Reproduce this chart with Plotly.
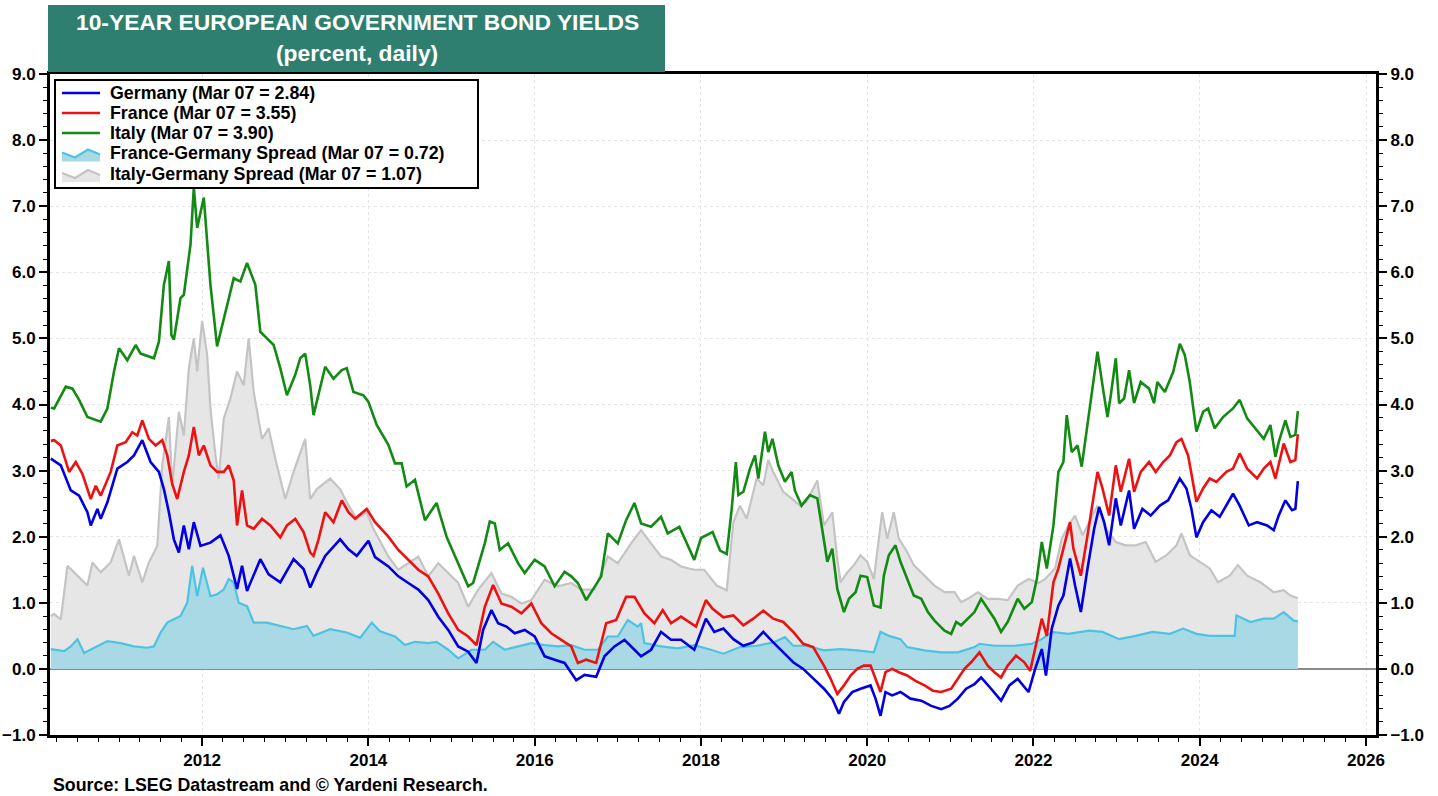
import plotly.graph_objects as go

# ---------------- data (decimal years, percent) ----------------
germany_t = [2010.18, 2010.22, 2010.3, 2010.42, 2010.52, 2010.62, 2010.66, 2010.74, 2010.78, 2010.86, 2010.98,
             2011.1, 2011.18, 2011.28, 2011.38, 2011.48, 2011.54, 2011.6, 2011.66, 2011.72, 2011.78, 2011.84, 2011.9, 2011.98,
             2012.1, 2012.22, 2012.32, 2012.42, 2012.48, 2012.54, 2012.7, 2012.8, 2012.94,
             2013.1, 2013.22, 2013.3, 2013.38, 2013.48, 2013.66, 2013.76, 2013.86, 2014.0, 2014.08,
             2014.24, 2014.36, 2014.48, 2014.6, 2014.72, 2014.84, 2014.96, 2015.08, 2015.2, 2015.3, 2015.38, 2015.48,
             2015.56, 2015.66, 2015.76, 2015.88, 2016.0, 2016.12, 2016.24, 2016.36, 2016.5, 2016.6, 2016.74, 2016.84,
             2016.96, 2017.08, 2017.2, 2017.28, 2017.4, 2017.52, 2017.64, 2017.76, 2017.92,
             2018.06, 2018.16, 2018.27, 2018.39, 2018.51, 2018.63, 2018.75, 2018.87, 2018.99, 2019.11, 2019.23, 2019.35,
             2019.48, 2019.58, 2019.66, 2019.72, 2019.82, 2019.92, 2020.04, 2020.1, 2020.16, 2020.22, 2020.3, 2020.4,
             2020.52, 2020.65, 2020.77, 2020.89, 2020.99, 2021.09, 2021.19, 2021.29, 2021.37, 2021.49, 2021.61, 2021.71,
             2021.81, 2021.94,
             2022.02, 2022.1, 2022.15, 2022.22, 2022.3, 2022.36, 2022.44, 2022.5, 2022.57, 2022.65, 2022.73, 2022.79,
             2022.85, 2022.91, 2022.99, 2023.05, 2023.15, 2023.21, 2023.31, 2023.41, 2023.52, 2023.62, 2023.7, 2023.76,
             2023.84, 2023.9, 2023.96, 2024.04, 2024.14, 2024.24, 2024.4, 2024.48, 2024.59, 2024.69, 2024.81, 2024.89,
             2024.95, 2025.03, 2025.11, 2025.15, 2025.18]
germany_y = [3.18, 3.15, 3.08, 2.7, 2.62, 2.37, 2.17, 2.42, 2.27, 2.52, 3.03,
             3.13, 3.23, 3.46, 3.13, 2.98, 2.72, 2.37, 1.96, 1.76, 2.17, 1.81, 2.22, 1.86,
             1.91, 2.02, 1.71, 1.21, 1.56, 1.18, 1.66, 1.43, 1.31,
             1.66, 1.51, 1.23, 1.46, 1.71, 1.96, 1.81, 1.71, 1.94, 1.69,
             1.55, 1.4, 1.3, 1.2, 1.04, 0.79, 0.59, 0.34, 0.26, 0.09, 0.59, 0.89,
             0.69, 0.64, 0.54, 0.59, 0.49, 0.19, 0.14, 0.09, -0.17, -0.09, -0.12, 0.19,
             0.34, 0.44, 0.29, 0.19, 0.29, 0.56, 0.44, 0.44, 0.29,
             0.76, 0.56, 0.61, 0.45, 0.35, 0.4, 0.56, 0.4, 0.25, 0.1, 0.0, -0.15,
             -0.3, -0.45, -0.68, -0.5, -0.35, -0.3, -0.25, -0.45, -0.71, -0.35, -0.4, -0.35,
             -0.45, -0.48, -0.56, -0.61, -0.56, -0.45, -0.3, -0.23, -0.13, -0.3, -0.48, -0.25,
             -0.15, -0.35,
             0.0, 0.3, -0.1, 0.61, 0.96, 1.11, 1.67, 1.26, 0.86, 1.52, 2.12, 2.45,
             2.22, 1.87, 2.58, 2.17, 2.7, 2.12, 2.42, 2.32, 2.47, 2.55, 2.73, 2.88,
             2.73, 2.42, 1.99, 2.22, 2.4, 2.3, 2.65, 2.47, 2.17, 2.22, 2.17, 2.1,
             2.32, 2.55, 2.4, 2.42, 2.84]

france_t = [2010.18, 2010.22, 2010.3, 2010.4, 2010.48, 2010.56, 2010.66, 2010.72, 2010.78, 2010.9, 2010.98,
            2011.08, 2011.16, 2011.22, 2011.28, 2011.36, 2011.44, 2011.52, 2011.58, 2011.64, 2011.7, 2011.78, 2011.84,
            2011.9, 2011.96, 2012.02, 2012.1, 2012.18, 2012.26, 2012.32, 2012.38, 2012.42, 2012.48, 2012.54, 2012.62,
            2012.72, 2012.82, 2012.94, 2013.02, 2013.12, 2013.22, 2013.3, 2013.34, 2013.4, 2013.48, 2013.58, 2013.68,
            2013.76, 2013.84, 2013.98, 2014.08,
            2014.24, 2014.36, 2014.48, 2014.6, 2014.72, 2014.84, 2014.96, 2015.08, 2015.2, 2015.3, 2015.4, 2015.5,
            2015.6, 2015.72, 2015.84, 2015.96, 2016.08, 2016.2, 2016.32, 2016.44, 2016.52, 2016.62, 2016.74, 2016.86,
            2016.98, 2017.1, 2017.2, 2017.32, 2017.44, 2017.54, 2017.64, 2017.76, 2017.94,
            2018.06, 2018.14, 2018.27, 2018.39, 2018.51, 2018.63, 2018.75, 2018.87, 2018.99, 2019.11, 2019.23, 2019.35,
            2019.48, 2019.56, 2019.64, 2019.72, 2019.8, 2019.88, 2019.96, 2020.04, 2020.12, 2020.16, 2020.22, 2020.3,
            2020.38, 2020.48, 2020.58, 2020.69, 2020.79, 2020.89, 2021.01, 2021.09, 2021.17, 2021.25, 2021.35, 2021.45,
            2021.53, 2021.61, 2021.69, 2021.79, 2021.89, 2021.96,
            2022.02, 2022.1, 2022.16, 2022.24, 2022.3, 2022.38, 2022.44, 2022.48, 2022.57, 2022.65, 2022.71, 2022.77,
            2022.83, 2022.91, 2022.99, 2023.05, 2023.15, 2023.21, 2023.29, 2023.39, 2023.47, 2023.56, 2023.64, 2023.72,
            2023.78, 2023.86, 2023.96, 2024.04, 2024.12, 2024.2, 2024.32, 2024.4, 2024.48, 2024.57, 2024.69, 2024.77,
            2024.85, 2024.91, 2025.01, 2025.09, 2025.15, 2025.18]
france_y = [3.45, 3.46, 3.38, 2.98, 3.13, 2.95, 2.57, 2.77, 2.62, 2.98, 3.38,
            3.43, 3.58, 3.53, 3.76, 3.48, 3.38, 3.46, 3.23, 2.8, 2.57, 2.98, 3.23,
            3.66, 3.23, 3.38, 3.08, 2.98, 2.98, 3.08, 2.85, 2.17, 2.7, 2.17, 2.12,
            2.27, 2.17, 1.99, 2.17, 2.27, 2.07, 1.76, 1.71, 1.96, 2.37, 2.22, 2.55,
            2.37, 2.27, 2.42, 2.22,
            2.0, 1.8, 1.65, 1.5, 1.4, 1.14, 0.84, 0.59, 0.49, 0.36, 0.94, 1.27,
            0.99, 0.94, 0.84, 0.99, 0.69, 0.54, 0.44, 0.34, 0.09, 0.14, 0.09, 0.69,
            0.74, 1.09, 1.09, 0.84, 0.69, 0.89, 0.69, 0.79, 0.64,
            1.04, 0.91, 0.78, 0.81, 0.66, 0.76, 0.88, 0.76, 0.71, 0.56, 0.38, 0.33,
            0.05, -0.15, -0.38, -0.25, -0.1, 0.0, 0.05, 0.05, -0.2, -0.35, -0.05, 0.0,
            -0.05, -0.1, -0.18, -0.25, -0.33, -0.35, -0.3, -0.15, 0.0, 0.1, 0.25, 0.05,
            -0.05, -0.13, 0.05, 0.2, 0.1, -0.03,
            0.3, 0.76, 0.5, 1.31, 1.52, 1.92, 2.22, 1.82, 1.41, 2.02, 2.53, 2.98,
            2.73, 2.32, 3.08, 2.68, 3.18, 2.68, 2.98, 3.13, 2.98, 3.13, 3.23, 3.43,
            3.48, 3.23, 2.53, 2.73, 2.88, 2.83, 2.98, 3.03, 3.26, 3.03, 2.88, 3.03,
            3.13, 2.88, 3.41, 3.13, 3.16, 3.55]

italy_t = [2010.18, 2010.22, 2010.36, 2010.44, 2010.52, 2010.62, 2010.78, 2010.86, 2010.94, 2011.0, 2011.1,
           2011.2, 2011.26, 2011.42, 2011.48, 2011.54, 2011.6, 2011.63, 2011.66, 2011.74, 2011.78, 2011.86, 2011.9,
           2011.94, 2012.02, 2012.1, 2012.18, 2012.26, 2012.32, 2012.38, 2012.46, 2012.54, 2012.64, 2012.7, 2012.78,
           2012.86, 2012.94, 2013.02, 2013.12, 2013.18, 2013.24, 2013.3, 2013.34, 2013.4, 2013.48, 2013.58, 2013.68,
           2013.74, 2013.82, 2013.94, 2014.0, 2014.1,
           2014.24, 2014.32, 2014.4, 2014.46, 2014.56, 2014.68, 2014.82, 2014.94, 2015.08, 2015.2, 2015.26, 2015.32,
           2015.4, 2015.46, 2015.52, 2015.58, 2015.68, 2015.8, 2015.88, 2016.0, 2016.12, 2016.24, 2016.36, 2016.44,
           2016.52, 2016.62, 2016.72, 2016.8, 2016.88, 2017.0, 2017.1, 2017.2, 2017.28, 2017.4, 2017.52, 2017.6,
           2017.74, 2017.92, 2018.0,
           2018.06, 2018.14, 2018.23, 2018.31, 2018.37, 2018.42, 2018.45, 2018.51, 2018.59, 2018.65, 2018.69, 2018.77,
           2018.81, 2018.86, 2018.93, 2019.01, 2019.09, 2019.13, 2019.21, 2019.31, 2019.4, 2019.46, 2019.52, 2019.58,
           2019.64, 2019.72, 2019.78, 2019.86, 2019.92, 2020.0, 2020.08, 2020.16, 2020.2, 2020.26, 2020.34, 2020.4,
           2020.48, 2020.56, 2020.65, 2020.73, 2020.81, 2020.93, 2021.01, 2021.07, 2021.13, 2021.21, 2021.29, 2021.37,
           2021.45, 2021.53, 2021.61, 2021.69, 2021.81, 2021.89, 2021.98,
           2022.04, 2022.1, 2022.16, 2022.24, 2022.3, 2022.36, 2022.4, 2022.46, 2022.53, 2022.58, 2022.65, 2022.71,
           2022.77, 2022.83, 2022.89, 2022.93, 2022.99, 2023.03, 2023.09, 2023.15, 2023.21, 2023.29, 2023.39, 2023.45,
           2023.49, 2023.58, 2023.68, 2023.76, 2023.82, 2023.88, 2023.96, 2024.04, 2024.1, 2024.18, 2024.28, 2024.4,
           2024.48, 2024.57, 2024.67, 2024.77, 2024.85, 2024.91, 2024.95, 2025.03, 2025.09, 2025.15, 2025.18]
italy_y = [3.95, 3.94, 4.27, 4.24, 4.07, 3.81, 3.74, 3.94, 4.5, 4.85, 4.67,
           4.9, 4.77, 4.7, 4.95, 5.81, 6.17, 5.05, 4.98, 5.61, 5.66, 6.42, 7.28,
           6.67, 7.13, 5.81, 4.88, 5.31, 5.61, 5.91, 5.86, 6.14, 5.81, 5.1, 5.0,
           4.9, 4.55, 4.14, 4.45, 4.7, 4.77, 4.29, 3.84, 4.14, 4.57, 4.39, 4.52,
           4.55, 4.19, 4.14, 4.04, 3.69,
           3.39, 3.11, 3.11, 2.76, 2.86, 2.25, 2.51, 2.0, 1.6, 1.25, 1.3, 1.55,
           1.9, 2.23, 2.2, 1.8, 1.9, 1.6, 1.45, 1.65, 1.55, 1.25, 1.47, 1.4,
           1.3, 1.04, 1.25, 1.4, 2.05, 1.9, 2.25, 2.51, 2.2, 2.15, 2.3, 2.05,
           2.15, 1.65, 1.98,
           2.02, 2.07, 1.79, 1.74, 2.42, 3.13, 2.63, 2.68, 3.03, 3.23, 2.88, 3.59,
           3.28, 3.48, 3.08, 2.83, 2.98, 2.7, 2.47, 2.63, 2.58, 2.07, 1.62, 1.82,
           1.21, 0.86, 1.06, 1.16, 1.41, 1.39, 0.96, 0.93, 1.41, 1.72, 1.87, 1.62,
           1.36, 1.11, 1.06, 0.86, 0.73, 0.58, 0.53, 0.71, 0.66, 0.76, 0.86, 1.06,
           0.91, 0.76, 0.56, 0.71, 1.06, 0.91, 1.01,
           1.36, 1.92, 1.52, 2.17, 2.98, 3.13, 3.84, 3.28, 3.38, 3.06, 3.69, 4.24,
           4.8, 4.29, 3.81, 4.14, 4.7, 4.02, 4.09, 4.52, 4.02, 4.34, 4.24, 4.02,
           4.34, 4.19, 4.49, 4.92, 4.75, 4.34, 3.59, 3.89, 3.94, 3.64, 3.81, 3.94,
           4.07, 3.79, 3.64, 3.48, 3.69, 3.21, 3.43, 3.76, 3.51, 3.54, 3.9]

fr_de_spread_t = [2010.18, 2010.22, 2010.34, 2010.42, 2010.5, 2010.58, 2010.74, 2010.86, 2011.02, 2011.18, 2011.34,
                  2011.42, 2011.5, 2011.58, 2011.66, 2011.74, 2011.82, 2011.88, 2011.94, 2012.01, 2012.1, 2012.18,
                  2012.26, 2012.32, 2012.38, 2012.44, 2012.54, 2012.62, 2012.78, 2012.94, 2013.1, 2013.26, 2013.34,
                  2013.54, 2013.74, 2013.9, 2014.04,
                  2014.14, 2014.32, 2014.44, 2014.56, 2014.72, 2014.82, 2014.96, 2015.08, 2015.24, 2015.4, 2015.5,
                  2015.64, 2015.8, 2015.96, 2016.12, 2016.28, 2016.44, 2016.6, 2016.76, 2016.88, 2017.0, 2017.12,
                  2017.24, 2017.28, 2017.32, 2017.52, 2017.72, 2017.92, 2018.12,
                  2018.27, 2018.47, 2018.67, 2018.87, 2019.01, 2019.11, 2019.27, 2019.48, 2019.68, 2019.88, 2020.08,
                  2020.16, 2020.26, 2020.4, 2020.48, 2020.69, 2020.89, 2021.09, 2021.29, 2021.35, 2021.53, 2021.77,
                  2021.98,
                  2022.1, 2022.22, 2022.42, 2022.67, 2022.83, 2023.03, 2023.23, 2023.43, 2023.64, 2023.8, 2023.96,
                  2024.12, 2024.28, 2024.42, 2024.44, 2024.61, 2024.77, 2024.89, 2025.01, 2025.13, 2025.18]
fr_de_spread_y = [0.3, 0.29, 0.27, 0.34, 0.45, 0.24, 0.34, 0.42, 0.39, 0.34, 0.32,
                  0.34, 0.55, 0.7, 0.75, 0.8, 1.0, 1.56, 1.1, 1.53, 1.1, 1.13,
                  1.2, 1.36, 1.31, 1.0, 0.95, 0.7, 0.7, 0.65, 0.6, 0.65, 0.5,
                  0.6, 0.55, 0.47, 0.7,
                  0.57, 0.49, 0.36, 0.41, 0.39, 0.41, 0.29, 0.16, 0.29, 0.29, 0.41,
                  0.29, 0.34, 0.39, 0.36, 0.34, 0.36, 0.29, 0.29, 0.49, 0.49, 0.74,
                  0.64, 0.69, 0.39, 0.34, 0.31, 0.36, 0.29,
                  0.23, 0.33, 0.35, 0.4, 0.48, 0.35, 0.35, 0.28, 0.3, 0.28, 0.25,
                  0.56, 0.5, 0.45, 0.33, 0.28, 0.25, 0.25, 0.33, 0.38, 0.35, 0.35,
                  0.38,
                  0.45, 0.56, 0.53, 0.58, 0.56, 0.45, 0.5, 0.56, 0.53, 0.61, 0.53,
                  0.5, 0.5, 0.5, 0.81, 0.71, 0.76, 0.76, 0.86, 0.73, 0.72]

it_de_spread_t = [2010.18, 2010.22, 2010.3, 2010.38, 2010.46, 2010.54, 2010.62, 2010.68, 2010.78, 2010.9, 2011.0,
                  2011.12, 2011.18, 2011.28, 2011.36, 2011.46, 2011.52, 2011.6, 2011.64, 2011.72, 2011.78, 2011.84,
                  2011.9, 2011.94, 2012.0, 2012.06, 2012.1, 2012.16, 2012.2, 2012.26, 2012.34, 2012.42, 2012.5,
                  2012.56, 2012.62, 2012.72, 2012.8, 2012.88, 2013.0, 2013.1, 2013.24, 2013.3, 2013.38, 2013.54,
                  2013.66, 2013.74, 2013.86, 2013.98, 2014.06,
                  2014.24, 2014.36, 2014.48, 2014.6, 2014.72, 2014.84, 2014.96, 2015.08, 2015.2, 2015.32, 2015.48,
                  2015.6, 2015.72, 2015.84, 2015.96, 2016.12, 2016.28, 2016.44, 2016.56, 2016.72, 2016.88, 2017.0,
                  2017.16, 2017.28, 2017.4, 2017.52, 2017.64, 2017.76, 2017.92, 2018.04,
                  2018.19, 2018.31, 2018.39, 2018.47, 2018.55, 2018.67, 2018.75, 2018.81, 2018.87, 2018.99, 2019.09,
                  2019.19, 2019.27, 2019.4, 2019.48, 2019.58, 2019.64, 2019.68, 2019.76, 2019.84, 2019.92, 2020.0,
                  2020.08, 2020.18, 2020.24, 2020.32, 2020.38, 2020.48, 2020.56, 2020.69, 2020.81, 2020.93, 2021.05,
                  2021.13, 2021.21, 2021.33, 2021.45, 2021.57, 2021.69, 2021.81, 2021.94,
                  2022.06, 2022.14, 2022.26, 2022.34, 2022.42, 2022.5, 2022.59, 2022.67, 2022.77, 2022.87, 2022.99,
                  2023.11, 2023.23, 2023.35, 2023.47, 2023.6, 2023.72, 2023.78, 2023.88, 2024.0, 2024.12, 2024.22,
                  2024.36, 2024.46, 2024.57, 2024.73, 2024.89, 2025.01, 2025.09, 2025.18]
it_de_spread_y = [0.8, 0.83, 0.75, 1.56, 1.46, 1.36, 1.26, 1.61, 1.46, 1.61, 1.96,
                  1.41, 1.71, 1.31, 1.61, 1.86, 3.08, 3.81, 2.77, 3.89, 3.53, 4.55,
                  5.0, 4.5, 5.26, 4.75, 3.94, 3.23, 2.88, 3.79, 4.09, 4.5, 4.29,
                  5.0, 4.19, 3.48, 3.64, 3.18, 2.57, 2.98, 3.48, 2.57, 2.72, 2.88,
                  2.72, 2.52, 2.27, 2.37, 2.12,
                  1.7, 1.5, 1.6, 1.7, 1.4, 1.6, 1.45, 1.3, 0.94, 1.2, 1.45,
                  1.14, 1.09, 0.99, 1.04, 1.35, 1.25, 1.3, 1.2, 1.2, 1.7, 1.6,
                  1.9, 2.1, 1.9, 1.7, 1.65, 1.55, 1.5, 1.5,
                  1.26, 1.19, 2.22, 2.47, 2.27, 2.88, 2.78, 3.16, 2.98, 2.68, 2.58,
                  2.47, 2.53, 2.85, 2.17, 2.37, 1.67, 1.31, 1.46, 1.57, 1.72, 1.62,
                  1.36, 2.37, 1.97, 2.37, 1.97, 1.77, 1.57, 1.41, 1.26, 1.16, 1.16,
                  1.01, 1.06, 1.16, 1.06, 1.06, 1.04, 1.26, 1.36,
                  1.3, 1.36, 1.52, 1.97, 2.17, 2.32, 2.02, 2.22, 2.47, 2.12, 1.92,
                  1.87, 1.87, 1.92, 1.62, 1.72, 1.87, 2.05, 1.72, 1.62, 1.52, 1.31,
                  1.41, 1.57, 1.41, 1.31, 1.16, 1.19, 1.11, 1.07]

legend_labels = ["Germany (Mar 07 = 2.84)", "France (Mar 07 = 3.55)", "Italy (Mar 07 = 3.90)",
                 "France-Germany Spread (Mar 07 = 0.72)", "Italy-Germany Spread (Mar 07 = 1.07)"]
year_ticks = [2012, 2014, 2016, 2018, 2020, 2022, 2024, 2026]
y_ticks = [-1, 0, 1, 2, 3, 4, 5, 6, 7, 8, 9]

# ---------------- styling ----------------
FONT = "Liberation Sans, Arial, sans-serif"
W, H = 1438, 796
ML, MR, MT, MB = 50, 62, 74, 61
PW, PH = W - ML - MR, H - MT - MB


def px(xp):  # pixel x -> paper x
    return (xp - ML) / PW


def py(yp):  # pixel y -> paper y
    return (H - MB - yp) / PH


C_DE, C_FR, C_IT = "#0000e0", "#ee1111", "#138a13"
C_FG_LINE, C_FG_FILL = "#4cc3e3", "#a9d9e5"
C_IG_LINE, C_IG_FILL = "#c4c4c4", "#e6e6e6"

fig = go.Figure()
fig.add_trace(go.Scatter(x=it_de_spread_t, y=it_de_spread_y, name=legend_labels[4], mode="lines",
                         fill="tozeroy", fillcolor=C_IG_FILL, line=dict(color=C_IG_LINE, width=2.2),
                         showlegend=False))
fig.add_trace(go.Scatter(x=fr_de_spread_t, y=fr_de_spread_y, name=legend_labels[3], mode="lines",
                         fill="tozeroy", fillcolor=C_FG_FILL, line=dict(color=C_FG_LINE, width=2.2),
                         showlegend=False))
fig.add_trace(go.Scatter(x=germany_t, y=germany_y, name=legend_labels[0], mode="lines",
                         line=dict(color=C_DE, width=2.6), showlegend=False))
fig.add_trace(go.Scatter(x=france_t, y=france_y, name=legend_labels[1], mode="lines",
                         line=dict(color=C_FR, width=2.6), showlegend=False))
fig.add_trace(go.Scatter(x=italy_t, y=italy_y, name=legend_labels[2], mode="lines",
                         line=dict(color=C_IT, width=2.6), showlegend=False))
# invisible trace carrying the right-hand axis
fig.add_trace(go.Scatter(x=italy_t[:1], y=italy_y[:1], yaxis="y2", mode="lines",
                         showlegend=False, hoverinfo="skip", opacity=0))

tickfont = dict(family=FONT, size=17, color="black", weight="bold")
yax = dict(range=[-1, 9], tickvals=y_ticks, tickformat=".1f", ticks="outside", ticklen=8, tickwidth=1.5,
           tickcolor="black", showline=True, linewidth=3, linecolor="black", automargin=False,
           minor=dict(dtick=0.2, ticks="outside", ticklen=4, tickcolor="black", tickwidth=1, showgrid=False),
           tickfont=tickfont, fixedrange=True)

fig.update_layout(
    width=W, height=H,
    margin=dict(l=ML, r=MR, t=MT, b=MB, autoexpand=False),
    paper_bgcolor="white", plot_bgcolor="white",
    showlegend=False,
    xaxis=dict(range=[2010.17, 2026.12], tickvals=year_ticks, ticktext=[str(v) for v in year_ticks],
               ticks="outside", ticklen=8, tickwidth=1.5, tickcolor="black",
               showline=True, linewidth=3, linecolor="black", mirror=True, automargin=False,
               showgrid=True, gridcolor="#e4e4e4", griddash="dot", gridwidth=1, zeroline=False,
               minor=dict(dtick=0.25, tick0=2012, ticks="outside", ticklen=4, tickcolor="black",
                          tickwidth=1, showgrid=False),
               tickfont=tickfont, fixedrange=True),
    yaxis=dict(side="left", showgrid=True, gridcolor="#e4e4e4", griddash="dot", gridwidth=1,
               zeroline=True, zerolinecolor="#8a8a8a", zerolinewidth=1.5, **yax),
    yaxis2=dict(overlaying="y", side="right", showgrid=False, zeroline=False, **yax),
)

# ---- title box ----
fig.add_shape(type="rect", xref="paper", yref="paper", x0=px(48), x1=px(665), y0=py(72), y1=py(5),
              fillcolor="#2e7f70", line=dict(width=0), layer="above")
for txt, yy in (("10-YEAR EUROPEAN GOVERNMENT BOND YIELDS", 22), ("(percent, daily)", 53)):
    fig.add_annotation(xref="paper", yref="paper", x=px(357), y=py(yy), text=txt,
                       showarrow=False, xanchor="center", yanchor="middle",
                       font=dict(family=FONT, size=22.8, color="white", weight="bold"))

# ---- source ----
fig.add_annotation(xref="paper", yref="paper", x=px(51), y=py(785),
                   text="Source: LSEG Datastream and © Yardeni Research.",
                   showarrow=False, xanchor="left", yanchor="middle",
                   font=dict(family=FONT, size=17.8, color="black", weight="bold"))

# ---- legend (drawn as a key box) ----
fig.add_shape(type="rect", xref="paper", yref="paper", x0=px(55), x1=px(478), y0=py(188), y1=py(80),
              fillcolor="white", line=dict(color="black", width=2), layer="above")
rows = [93, 113, 133, 153.5, 174]
line_cols = [C_DE, C_FR, C_IT]
for i, (lab, ry) in enumerate(zip(legend_labels, rows)):
    if i < 3:
        fig.add_shape(type="line", xref="paper", yref="paper", x0=px(62), x1=px(100), y0=py(ry), y1=py(ry),
                      line=dict(color=line_cols[i], width=2.6), layer="above")
    else:
        fill_c, line_c = (C_FG_FILL, C_FG_LINE) if i == 3 else (C_IG_FILL, C_IG_LINE)
        pts = [(62, ry - 1), (75, ry + 4), (88, ry - 4), (100, ry + 1)]
        area = "M {},{} ".format(px(62), py(ry + 8)) + " ".join(
            "L {},{}".format(px(a), py(b)) for a, b in pts) + " L {},{} Z".format(px(100), py(ry + 8))
        fig.add_shape(type="path", xref="paper", yref="paper", path=area, fillcolor=fill_c,
                      line=dict(width=0), layer="above")
        top = "M " + " L ".join("{},{}".format(px(a), py(b)) for a, b in pts)
        fig.add_shape(type="path", xref="paper", yref="paper", path=top,
                      line=dict(color=line_c, width=2.4), layer="above")
    fig.add_annotation(xref="paper", yref="paper", x=px(108), y=py(ry), text=lab, showarrow=False,
                       xanchor="left", yanchor="middle",
                       font=dict(family=FONT, size=17.8, color="black", weight="bold"))

fig.write_html("out.html", config={"displayModeBar": False},
               post_script="document.body.style.margin='0px';")
